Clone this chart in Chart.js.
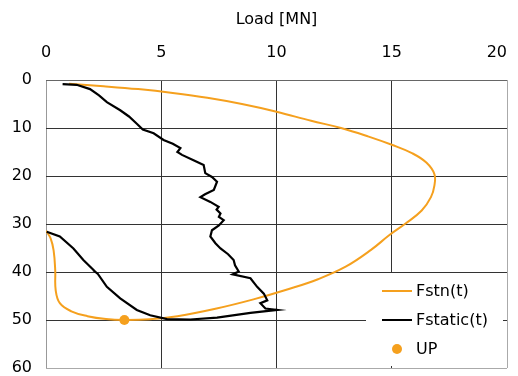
<!DOCTYPE html>
<html>
<head>
<meta charset="utf-8">
<script src="https://cdn.jsdelivr.net/npm/chart.js@4/dist/chart.umd.min.js"></script>
<style>
  html, body { margin: 0; padding: 0; background: #fff; }
  canvas { display: block; }
</style>
</head>
<body>
<canvas id="chart" width="518" height="376"></canvas>
<script>
// Axis ticks
const loadTicks = [0, 5, 10, 15, 20];
const depthTicks = [0, 10, 20, 30, 40, 50, 60];

// Fstn(t): load [MN] and depth along the loop
const fstnLoad = [1.0, 2.5, 4.0, 5.5, 7.0, 8.5, 10.0, 11.5, 12.8, 14.0, 15.0, 15.9, 16.5, 16.85, 16.85, 16.7, 16.3, 15.6, 14.9, 14.1, 13.0, 11.8, 10.5, 9.0, 7.4, 5.7, 4.5, 3.4, 2.6, 1.8, 1.1, 0.6, 0.42, 0.4, 0.33, 0.2, 0.0];
const fstnDepth = [0.8, 1.3, 1.9, 2.7, 3.7, 5.0, 6.6, 8.5, 10.0, 11.8, 13.5, 15.3, 17.2, 19.6, 22.0, 24.4, 27.2, 29.9, 32.3, 35.4, 38.9, 41.5, 43.6, 45.7, 47.6, 49.2, 49.85, 50.0, 49.8, 49.2, 48.2, 46.5, 43.8, 39.6, 35.5, 33.0, 31.4];

// Fstatic(t): load [MN] and depth
const fstaticLoad = [0.72, 1.33, 1.91, 2.3, 2.64, 3.22, 3.6, 3.94, 4.2, 4.67, 5.1, 5.5, 5.83, 5.7, 5.9, 6.4, 6.84, 6.91, 7.2, 7.42, 7.28, 6.9, 6.7, 7.13, 7.49, 7.4, 7.57, 7.5, 7.71, 7.5, 7.2, 7.13, 7.35, 7.57, 7.9, 8.14, 8.2, 8.36, 8.1, 8.87, 9.16, 9.45, 9.6, 9.3, 9.52, 10.03, 8.87, 7.42, 6.26, 5.25, 4.52, 3.94, 3.22, 2.64, 2.25, 2.05, 2.13, 1.62, 1.19, 0.6, 0.03];
const fstaticDepth = [0.85, 1.0, 1.9, 3.2, 4.6, 6.3, 7.6, 9.1, 10.3, 11.1, 12.5, 13.3, 14.2, 15.0, 15.6, 16.7, 17.7, 19.4, 20.2, 21.2, 22.9, 23.8, 24.4, 25.4, 26.4, 27.0, 27.8, 28.5, 29.2, 30.3, 31.3, 32.6, 34.0, 35.1, 36.3, 37.5, 38.6, 39.9, 40.5, 41.3, 43.1, 44.5, 45.9, 46.5, 47.6, 47.9, 48.5, 49.5, 49.9, 49.8, 49.0, 47.9, 45.5, 43.1, 40.4, 39.6, 39.9, 37.5, 35.1, 32.6, 31.6];

// UP point
const upLoad = [3.4];
const upDepth = [50];

const seriesNames = ['Fstn(t)', 'Fstatic(t)', 'UP'];
const orange = '#F5A01E';

const toPoints = (xs, ys) => xs.map((x, i) => ({ x: x, y: ys[i] }));

// Legend box drawn inside the plot area, lower right
const insideLegend = {
  id: 'insideLegend',
  afterDatasetsDraw(chart) {
    const { ctx, chartArea: a } = chart;
    const x0 = a.right - 141, y0 = a.bottom - 95, w = 137, h = 93;
    ctx.save();
    ctx.fillStyle = '#fff';
    ctx.fillRect(x0, y0, w, h);
    ctx.font = '16px "DejaVu Sans"';
    ctx.textBaseline = 'middle';
    ctx.textAlign = 'left';
    [0, 1, 2].forEach((i) => {
      const ds = chart.data.datasets[i];
      const y = y0 + 18 + i * 29;
      if (ds.showLine === false) {
        ctx.beginPath();
        ctx.fillStyle = ds.backgroundColor;
        ctx.arc(x0 + 31, y, 5, 0, Math.PI * 2);
        ctx.fill();
      } else {
        ctx.beginPath();
        ctx.strokeStyle = ds.borderColor;
        ctx.lineWidth = 2;
        ctx.moveTo(x0 + 16, y);
        ctx.lineTo(x0 + 46, y);
        ctx.stroke();
      }
      ctx.fillStyle = '#000';
      ctx.fillText(ds.label, x0 + 50, y + 1);
    });
    ctx.restore();
  }
};

Chart.defaults.font.family = '"DejaVu Sans"';
Chart.defaults.font.size = 16;
Chart.defaults.color = '#000';

const gridColor = (edgeA, edgeB, colA, colB) => (ctx) => {
  const v = ctx.tick ? ctx.tick.value : null;
  if (v === edgeA) return colA;
  if (v === edgeB) return colB;
  return '#333';
};

new Chart(document.getElementById('chart'), {
  type: 'scatter',
  data: {
    datasets: [
      {
        label: seriesNames[0],
        data: toPoints(fstnLoad, fstnDepth),
        showLine: true,
        borderColor: orange,
        backgroundColor: orange,
        borderWidth: 2,
        pointRadius: 0,
        tension: 0.4,
        order: 2
      },
      {
        label: seriesNames[1],
        data: toPoints(fstaticLoad, fstaticDepth),
        showLine: true,
        borderColor: '#000',
        backgroundColor: '#000',
        borderWidth: 2.2,
        pointRadius: 0,
        tension: 0,
        order: 1
      },
      {
        label: seriesNames[2],
        data: toPoints(upLoad, upDepth),
        showLine: false,
        borderColor: orange,
        backgroundColor: orange,
        pointRadius: 5,
        borderWidth: 0,
        order: 0
      }
    ]
  },
  options: {
    responsive: false,
    devicePixelRatio: 1,
    animation: false,
    layout: { padding: { left: 0, right: 11, top: 0, bottom: 8 } },
    plugins: {
      legend: { display: false },
      tooltip: { enabled: false }
    },
    scales: {
      x: {
        type: 'linear',
        position: 'top',
        min: loadTicks[0],
        max: loadTicks[loadTicks.length - 1],
        afterBuildTicks: (s) => { s.ticks = loadTicks.map((v) => ({ value: v })); },
        afterFit: (s) => {
          s.height = 80;
          s.paddingLeft = 0;
          s.paddingRight = 0;
        },
        ticks: {
          padding: 18,
          maxRotation: 0,
          callback: (v) => (v === 20 ? '20    ' : String(v))
        },
        grid: {
          drawTicks: false,
          color: gridColor(0, 20, '#999', '#aaa'),
          lineWidth: 1
        },
        border: { display: false },
        title: {
          display: true,
          text: 'Load [MN]',
          font: { size: 16 },
          padding: { top: 10, bottom: 0 }
        }
      },
      y: {
        type: 'linear',
        reverse: true,
        min: depthTicks[0],
        max: depthTicks[depthTicks.length - 1],
        afterBuildTicks: (s) => { s.ticks = depthTicks.map((v) => ({ value: v })); },
        afterFit: (s) => {
          s.width = 46;
          s.paddingTop = 0;
          s.paddingBottom = 0;
        },
        ticks: { padding: 14 },
        grid: {
          drawTicks: false,
          color: gridColor(0, 60, '#666', '#aaa'),
          lineWidth: 1
        },
        border: { display: false }
      }
    }
  },
  plugins: [insideLegend]
});
</script>
</body>
</html>
